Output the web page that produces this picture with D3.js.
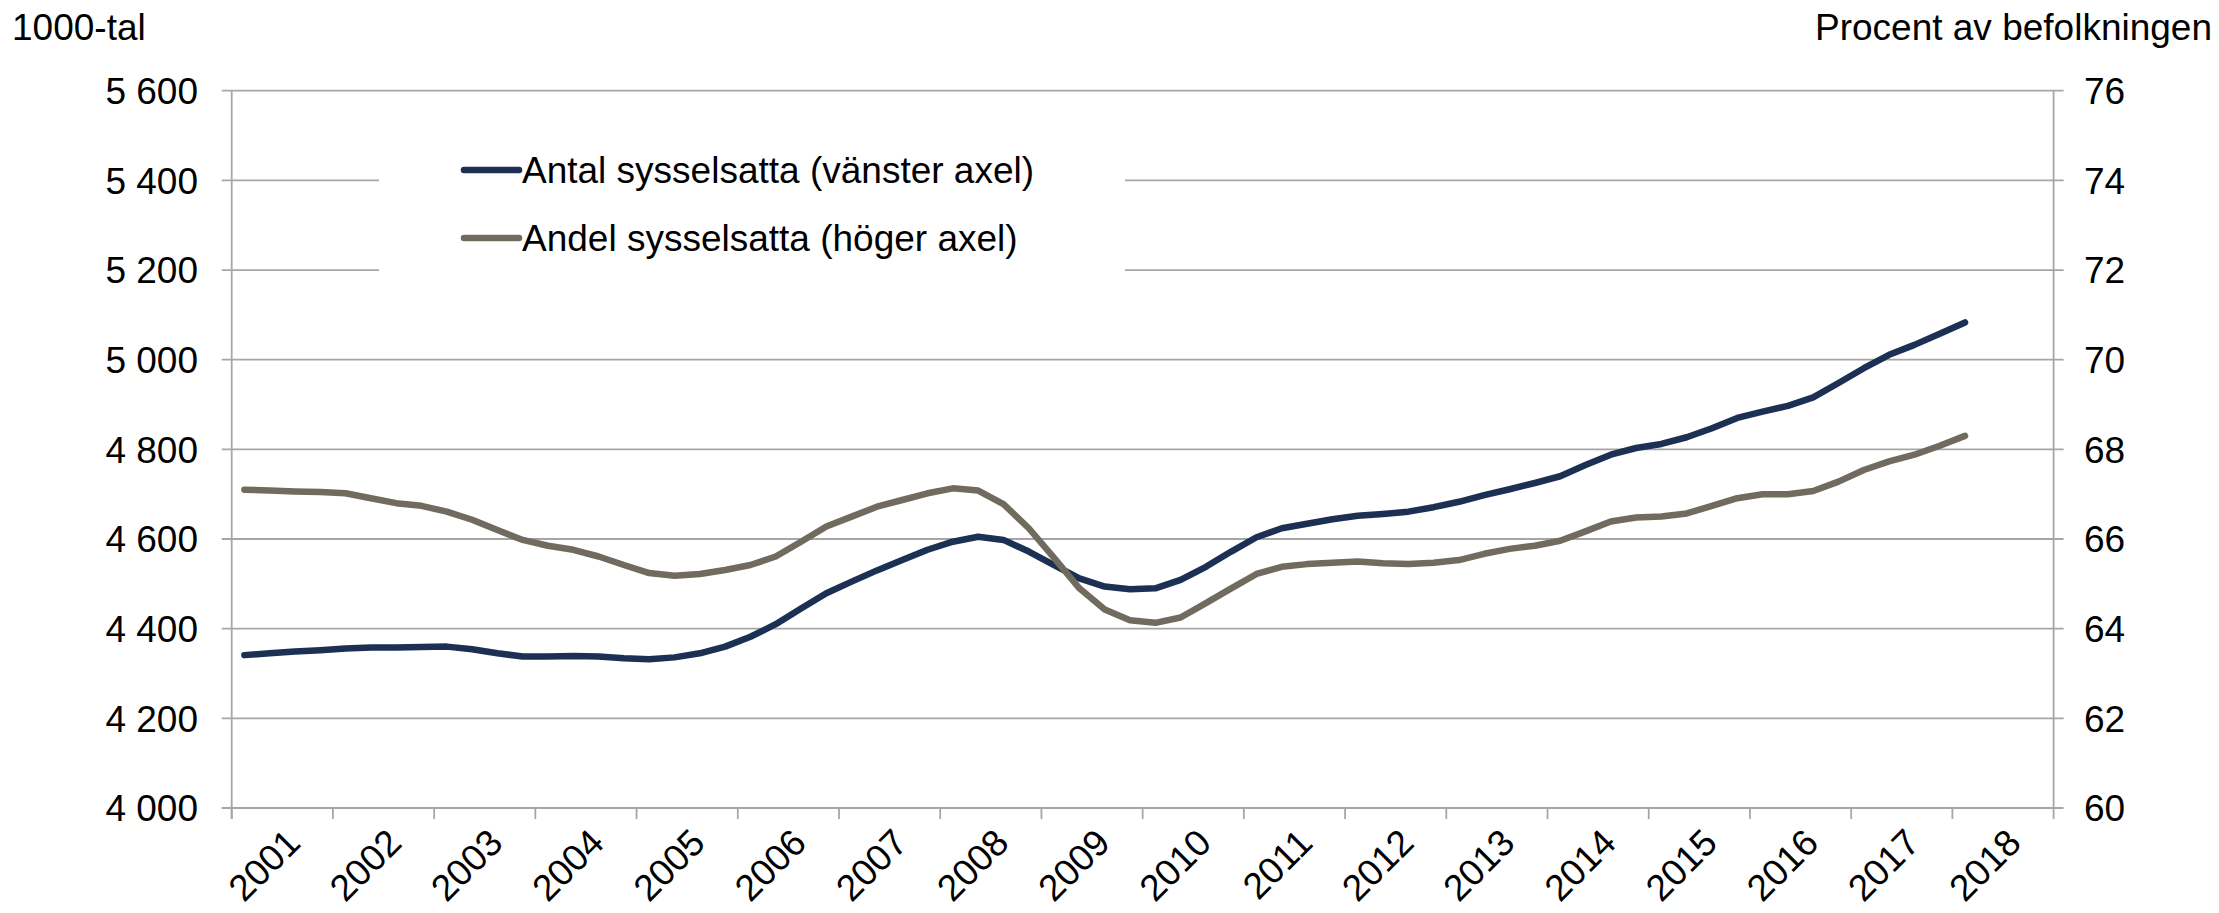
<!DOCTYPE html>
<html>
<head>
<meta charset="utf-8">
<script src="https://cdn.jsdelivr.net/npm/d3@7"></script>
<style>
  body { margin: 0; background: #fff; }
  svg { display: block; font-family: "Liberation Sans", Arial, sans-serif; }
</style>
</head>
<body>
<svg id="chart"></svg>
<script>
// years on the category axis, data is quarterly (2001K1 - 2018K1)
var years = [2001, 2002, 2003, 2004, 2005, 2006, 2007, 2008, 2009,
             2010, 2011, 2012, 2013, 2014, 2015, 2016, 2017, 2018];

// Antal sysselsatta, 1000-tal (left axis)
var antal = [
  4341, 4345, 4349, 4352,
  4356, 4358, 4358, 4359,
  4360, 4354, 4345, 4338,
  4338, 4339, 4338, 4334,
  4332, 4336, 4345, 4360,
  4382, 4410, 4445, 4479,
  4505, 4530, 4553, 4576,
  4594, 4605, 4598, 4572,
  4542, 4512, 4494, 4488,
  4490, 4509, 4538, 4572,
  4604, 4624, 4634, 4644,
  4652, 4656, 4661, 4671,
  4683, 4698, 4711, 4725,
  4740, 4765, 4788, 4803,
  4812, 4827, 4847, 4870,
  4884, 4897, 4916, 4948,
  4981, 5011, 5033, 5058,
  5083
];

// Andel sysselsatta, procent av befolkningen (right axis)
var andel = [
  67.10, 67.08, 67.06, 67.05,
  67.02, 66.91, 66.80, 66.74,
  66.61, 66.43, 66.20, 65.98,
  65.85, 65.76, 65.61, 65.42,
  65.24, 65.18, 65.22, 65.31,
  65.42, 65.61, 65.94, 66.28,
  66.50, 66.72, 66.87, 67.02,
  67.13, 67.08, 66.78, 66.24,
  65.58, 64.90, 64.43, 64.19,
  64.13, 64.25, 64.57, 64.90,
  65.22, 65.38, 65.44, 65.47,
  65.50, 65.46, 65.44, 65.47,
  65.53, 65.67, 65.78, 65.85,
  65.96, 66.17, 66.39, 66.48,
  66.50, 66.57, 66.74, 66.91,
  67.00, 67.00, 67.07, 67.28,
  67.54, 67.73, 67.88, 68.08,
  68.30
];

var leftTicks = [4000, 4200, 4400, 4600, 4800, 5000, 5200, 5400, 5600];
var rightTicks = [60, 62, 64, 66, 68, 70, 72, 74, 76];
var seriesNames = ["Antal sysselsatta (vänster axel)", "Andel sysselsatta (höger axel)"];
var colors = ["#1b3052", "#716b5f"];

var width = 2219, height = 913;
var plot = {left: 231.7, right: 2053.6, top: 90.7, bottom: 808};

var svg = d3.select("#chart")
  .attr("width", width)
  .attr("height", height);

// quarterly categories
var quarters = [];
years.forEach(function(y) {
  for (var q = 1; q <= 4; q++) quarters.push(y + "K" + q);
});

var x = d3.scaleBand()
  .domain(quarters)
  .range([plot.left, plot.right])
  .padding(0);
var bw = x.bandwidth();

var yL = d3.scaleLinear().domain([4000, 5600]).range([plot.bottom, plot.top]);
var yR = d3.scaleLinear().domain([60, 76]).range([plot.bottom, plot.top]);

var fmt = d3.formatLocale({decimal: ",", thousands: " ", grouping: [3], currency: ["", ""]}).format(",");

var gridColor = "#a6a6a6";

// gridlines (stick out as tick marks on both sides)
svg.append("g")
  .selectAll("line")
  .data(leftTicks)
  .enter()
  .append("line")
  .attr("x1", plot.left - 10)
  .attr("x2", plot.right + 10)
  .attr("y1", function(d) { return yL(d); })
  .attr("y2", function(d) { return yL(d); })
  .attr("stroke", gridColor)
  .attr("stroke-width", 1.8);

// vertical axis lines
svg.append("line")
  .attr("x1", plot.left).attr("x2", plot.left)
  .attr("y1", plot.top).attr("y2", plot.bottom + 11)
  .attr("stroke", gridColor).attr("stroke-width", 1.8);
svg.append("line")
  .attr("x1", plot.right).attr("x2", plot.right)
  .attr("y1", plot.top).attr("y2", plot.bottom + 11)
  .attr("stroke", gridColor).attr("stroke-width", 1.8);

// x tick marks at year boundaries
svg.append("g")
  .selectAll("line")
  .data(years)
  .enter()
  .append("line")
  .attr("x1", function(d) { return x(d + "K1"); })
  .attr("x2", function(d) { return x(d + "K1"); })
  .attr("y1", plot.bottom)
  .attr("y2", plot.bottom + 11)
  .attr("stroke", gridColor)
  .attr("stroke-width", 1.8);

// y labels
svg.append("g")
  .selectAll("text")
  .data(leftTicks)
  .enter()
  .append("text")
  .attr("x", 198)
  .attr("y", function(d) { return yL(d); })
  .attr("dy", "0.36em")
  .attr("text-anchor", "end")
  .attr("font-size", "37px")
  .text(function(d) { return fmt(d); });

svg.append("g")
  .selectAll("text")
  .data(rightTicks)
  .enter()
  .append("text")
  .attr("x", 2084)
  .attr("y", function(d) { return yR(d); })
  .attr("dy", "0.36em")
  .attr("text-anchor", "start")
  .attr("font-size", "37px")
  .text(function(d) { return d; });

// x labels, rotated
svg.append("g")
  .selectAll("text")
  .data(years)
  .enter()
  .append("text")
  .attr("transform", function(d) {
    return "translate(" + (x(d + "K1") + 2 * bw + 20) + ",845)rotate(-45)";
  })
  .attr("text-anchor", "end")
  .attr("font-size", "37px")
  .text(function(d) { return d; });

// axis titles
svg.append("text")
  .attr("x", 12)
  .attr("y", 40)
  .attr("font-size", "37px")
  .text("1000-tal");

svg.append("text")
  .attr("x", 2212)
  .attr("y", 40)
  .attr("text-anchor", "end")
  .attr("font-size", "37px")
  .text("Procent av befolkningen");

// lines
var lineL = d3.line()
  .x(function(d, i) { return x(quarters[i]) + bw / 2; })
  .y(function(d) { return yL(d); });
var lineR = d3.line()
  .x(function(d, i) { return x(quarters[i]) + bw / 2; })
  .y(function(d) { return yR(d); });

svg.append("path")
  .datum(antal)
  .attr("d", lineL)
  .attr("fill", "none")
  .attr("stroke", colors[0])
  .attr("stroke-width", 6.5)
  .attr("stroke-linecap", "round")
  .attr("stroke-linejoin", "round");

svg.append("path")
  .datum(andel)
  .attr("d", lineR)
  .attr("fill", "none")
  .attr("stroke", colors[1])
  .attr("stroke-width", 6.5)
  .attr("stroke-linecap", "round")
  .attr("stroke-linejoin", "round");

// legend
var legend = svg.append("g");
legend.append("rect")
  .attr("x", 379)
  .attr("y", 110)
  .attr("width", 746)
  .attr("height", 185)
  .attr("fill", "#fff");

var ly = [170, 238];
seriesNames.forEach(function(name, i) {
  legend.append("line")
    .attr("x1", 464).attr("x2", 519)
    .attr("y1", ly[i]).attr("y2", ly[i])
    .attr("stroke", colors[i])
    .attr("stroke-width", 6.5)
    .attr("stroke-linecap", "round");
  legend.append("text")
    .attr("x", 522)
    .attr("y", ly[i])
    .attr("dy", "0.36em")
    .attr("font-size", "37px")
    .text(name);
});
</script>
</body>
</html>
